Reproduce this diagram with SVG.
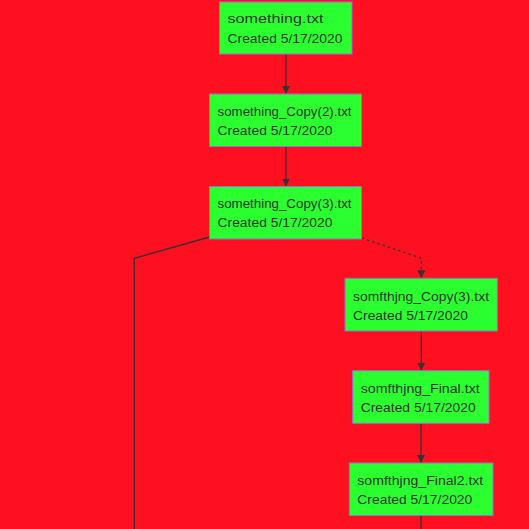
<svg xmlns="http://www.w3.org/2000/svg" width="529" height="529" viewBox="0 0 529 529">
<style>
.node rect{fill:#2bff2f;stroke:#9370db;stroke-width:1}
.node text{font-family:"Comic Sans MS","Liberation Sans",sans-serif;font-size:13px;fill:#333}
.edge{fill:none;stroke:#333;stroke-width:1.3}
.dash{stroke-dasharray:2.5,3}
</style>
<defs>
<marker id="arr" viewBox="0 0 10 10" refX="10" refY="5" markerWidth="8" markerHeight="8" markerUnits="userSpaceOnUse" orient="auto">
<path d="M0,0 L10,5 L0,10 z" fill="#333"/>
</marker>
</defs>
<rect width="529" height="529" fill="#ff1020"/>
<g id="connectors">
<path class="edge" d="M286,54 L286,94" marker-end="url(#arr)"/>
<path class="edge" d="M286,147 L286,186.5" marker-end="url(#arr)"/>
<path class="edge" d="M209.5,237 L134.3,258.3 L134.3,529"/>
<path class="edge dash" d="M361.7,238 L421.3,258.3 L421.3,278.3" marker-end="url(#arr)"/>
<path class="edge" d="M421.3,331 L421.3,370.7" marker-end="url(#arr)"/>
<path class="edge" d="M421,423.3 L421,463" marker-end="url(#arr)"/>
<path class="edge" d="M421,515.5 L421,529"/>
</g>
<g id="n1" class="node"><rect x="219.5" y="2" width="132.5" height="52"/><text x="227.5" y="23" textLength="96" lengthAdjust="spacingAndGlyphs">something.txt</text><text x="227.5" y="43" textLength="115" lengthAdjust="spacingAndGlyphs">Created 5/17/2020</text></g>
<g id="n2" class="node"><rect x="209.5" y="94" width="152" height="52.5"/><text x="217.5" y="116" textLength="134" lengthAdjust="spacingAndGlyphs">something_Copy(2).txt</text><text x="217.5" y="135" textLength="115" lengthAdjust="spacingAndGlyphs">Created 5/17/2020</text></g>
<g id="n3" class="node"><rect x="209.5" y="186.5" width="152" height="52.5"/><text x="217.5" y="208" textLength="134" lengthAdjust="spacingAndGlyphs">something_Copy(3).txt</text><text x="217.5" y="227" textLength="115" lengthAdjust="spacingAndGlyphs">Created 5/17/2020</text></g>
<g id="n4" class="node"><rect x="345" y="278.3" width="152.3" height="52.7"/><text x="353" y="301" textLength="136" lengthAdjust="spacingAndGlyphs">somfthjng_Copy(3).txt</text><text x="353" y="320" textLength="115" lengthAdjust="spacingAndGlyphs">Created 5/17/2020</text></g>
<g id="n5" class="node"><rect x="352.7" y="370.7" width="136.3" height="52.6"/><text x="360.7" y="393" textLength="119" lengthAdjust="spacingAndGlyphs">somfthjng_Final.txt</text><text x="360.7" y="412" textLength="115" lengthAdjust="spacingAndGlyphs">Created 5/17/2020</text></g>
<g id="n6" class="node"><rect x="349.3" y="463" width="143.7" height="52.5"/><text x="357.3" y="485" textLength="126" lengthAdjust="spacingAndGlyphs">somfthjng_Final2.txt</text><text x="357.3" y="504" textLength="115" lengthAdjust="spacingAndGlyphs">Created 5/17/2020</text></g>
</svg>
